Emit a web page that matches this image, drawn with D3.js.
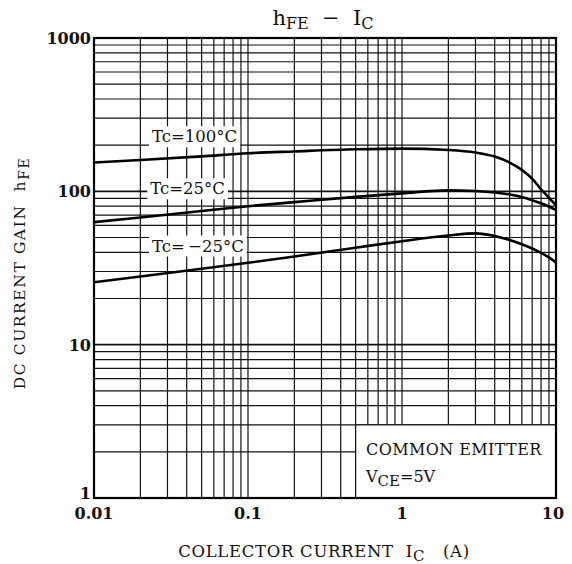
<!DOCTYPE html>
<html>
<head>
<meta charset="utf-8">
<script src="https://cdn.jsdelivr.net/npm/d3@7"></script>
<style>
  body { margin: 0; background: #fff; }
  text { font-family: "DejaVu Serif", serif; fill: #111; }
</style>
</head>
<body>
<svg id="chart"></svg>
<script>
// courant collecteur (A)
const ic = [0.01, 0.02, 0.05, 0.1, 0.2, 0.5, 1, 2, 3, 4, 5, 6, 7, 8, 9, 10];
// gain hFE par température
const hfe100 = [154, 160, 169, 177, 182, 188, 190, 186, 179, 168.5, 154, 138, 121, 103, 91, 81];
const hfe25 = [63, 67.5, 74.5, 80, 85, 92, 97, 101.5, 100.5, 98.3, 95.3, 91.8, 87.6, 83.6, 79.6, 75.5];
const hfeM25 = [25.5, 27.8, 31.3, 34.2, 37.6, 42.9, 47.3, 51.5, 53.2, 51.2, 48.2, 45.2, 42.4, 39.7, 37.1, 34.4];
const seriesNames = ["Tc=100°C", "Tc=25°C", "Tc=\u2009\u221225°C"];
// position des étiquettes (IC, hFE)
const labelX = [0.0238, 0.0232, 0.0238];
const labelY = [209, 95.6, 40.5];

const xTicks = [0.01, 0.1, 1, 10];
const yTicks = [1, 10, 100, 1000];

const W = 572, H = 564;
const margin = { top: 38, right: 16, bottom: 66, left: 94 };
const svg = d3.select('#chart').attr('width', W).attr('height', H);

const x = d3.scaleLog().domain([0.01, 10]).range([margin.left, W - margin.right]);
const y = d3.scaleLog().domain([1, 1000]).range([H - margin.bottom, margin.top]);

// grille
const minor = [];
[0.01, 0.1, 1].forEach(d => { for (let k = 1; k <= 9; k++) minor.push(d * k); });
minor.push(10);
const minorY = [];
[1, 10, 100].forEach(d => { for (let k = 1; k <= 9; k++) minorY.push(d * k); });
minorY.push(1000);

const grid = svg.append('g').attr('stroke', '#111').attr('stroke-width', 1.2);
grid.selectAll('line.v').data(minor).join('line')
    .attr('x1', d => x(d)).attr('x2', d => x(d))
    .attr('y1', y(1)).attr('y2', y(1000));
grid.selectAll('line.h').data(minorY).join('line')
    .attr('y1', d => y(d)).attr('y2', d => y(d))
    .attr('x1', x(0.01)).attr('x2', x(10))
    .attr('stroke-width', d => yTicks.includes(d) ? 1.8 : 1.2);

// boîte COMMON EMITTER
svg.append('rect')
    .attr('x', x(0.5)).attr('y', y(3))
    .attr('width', x(10) - x(0.5)).attr('height', y(1) - y(3))
    .attr('fill', '#fff').attr('stroke', '#111').attr('stroke-width', 1.2);
const note = svg.append('g');
note.append('text').attr('x', 366).attr('y', 455).attr('font-size', 16)
    .attr('letter-spacing', 0.4).text('COMMON EMITTER');
const vce = note.append('text').attr('x', 366).attr('y', 482).attr('font-size', 16);
vce.append('tspan').text('V');
vce.append('tspan').attr('dy', 4).attr('font-size', 15).text('CE');
vce.append('tspan').attr('dy', -4).text('=5V');

// étiquettes des courbes
const labels = svg.append('g');
seriesNames.forEach((name, i) => {
    const t = labels.append('text')
        .attr('x', x(labelX[i])).attr('y', y(labelY[i]))
        .attr('font-size', 16.5).text(name);
    const bb = t.node().getBBox();
    labels.insert('rect', 'text')
        .attr('x', bb.x - 3).attr('y', bb.y - 1)
        .attr('width', bb.width + 6).attr('height', bb.height + 2)
        .attr('fill', '#fff');
});

// courbes
const line = d3.line().x(d => x(d[0])).y(d => y(d[1])).curve(d3.curveMonotoneX);
[hfe100, hfe25, hfeM25].forEach(s => {
    svg.append('path')
        .attr('d', line(ic.map((v, i) => [v, s[i]])))
        .attr('fill', 'none').attr('stroke', '#000').attr('stroke-width', 2.6);
});

// cadre
svg.append('rect')
    .attr('x', x(0.01)).attr('y', y(1000))
    .attr('width', x(10) - x(0.01)).attr('height', y(1) - y(1000))
    .attr('fill', 'none').attr('stroke', '#000').attr('stroke-width', 2.2);

// axes
svg.selectAll('text.yt').data(yTicks).join('text')
    .attr('x', x(0.01) - 3).attr('y', d => d === 1 ? y(d) + 1 : y(d) + 6)
    .attr('text-anchor', 'end').attr('font-size', 16).attr('font-weight', 'bold')
    .text(d => d);
svg.selectAll('text.xt').data(xTicks).join('text')
    .attr('x', d => d === 10 ? x(d) - 3 : x(d)).attr('y', H - margin.bottom + 21)
    .attr('text-anchor', 'middle').attr('font-size', 16).attr('font-weight', 'bold')
    .text(d => d);

// titre
const title = svg.append('text').attr('x', 323).attr('y', 25)
    .attr('text-anchor', 'middle').attr('font-size', 21).attr('xml:space', 'preserve');
title.append('tspan').text('h');
title.append('tspan').attr('dy', 4).attr('font-size', 16).text('FE');
title.append('tspan').attr('dy', -4).text('  \u2212  I');
title.append('tspan').attr('dy', 4).attr('font-size', 16).text('C');

// titres des axes
const xt = svg.append('text').attr('x', 324).attr('y', 557)
    .attr('text-anchor', 'middle').attr('font-size', 16.5).attr('letter-spacing', 0.7)
    .attr('xml:space', 'preserve');
xt.append('tspan').text('COLLECTOR CURRENT  I');
xt.append('tspan').attr('dy', 4).attr('font-size', 15).text('C');
xt.append('tspan').attr('dy', -4).text('   (A)');

const yt = svg.append('text').attr('transform', 'translate(25,273) rotate(-90)')
    .attr('text-anchor', 'middle').attr('font-size', 15.5).attr('letter-spacing', 1.6)
    .attr('xml:space', 'preserve');
yt.append('tspan').text('DC CURRENT GAIN  h');
yt.append('tspan').attr('dy', 4).attr('font-size', 14).text('FE');
</script>
</body>
</html>
